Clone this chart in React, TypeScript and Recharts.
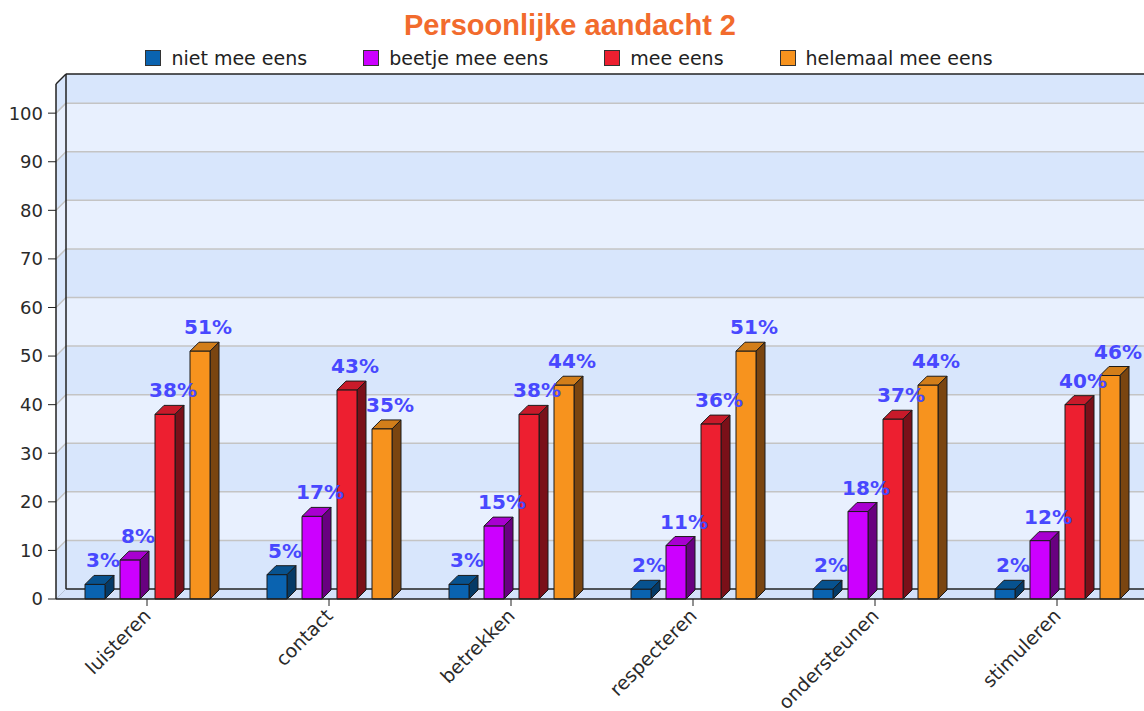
import { BarChart, Bar, XAxis, YAxis, ReferenceArea, LabelList } from "recharts"

const categories = ["luisteren", "contact", "betrekken", "respecteren", "ondersteunen", "stimuleren"]
const nietMeeEens = [3, 5, 3, 2, 2, 2]
const beetjeMeeEens = [8, 17, 15, 11, 18, 12]
const meeEens = [38, 43, 38, 36, 37, 40]
const helemaalMeeEens = [51, 35, 44, 51, 44, 46]
const yTicks = [0, 10, 20, 30, 40, 50, 60, 70, 80, 90, 100]
const yMax = 106

const series = [
  { key: "niet", name: "niet mee eens", values: nietMeeEens, front: "#0a63b0", top: "#07528f", side: "#053a66" },
  { key: "beetje", name: "beetje mee eens", values: beetjeMeeEens, front: "#cc00ff", top: "#a800d0", side: "#680080" },
  { key: "mee", name: "mee eens", values: meeEens, front: "#ed1f30", top: "#c81a2a", side: "#7a1019" },
  { key: "helemaal", name: "helemaal mee eens", values: helemaalMeeEens, front: "#f7931e", top: "#d27e1a", side: "#7a4510" },
]

const data = categories.map((c, i) => {
  const row: Record<string, string | number> = { name: c }
  series.forEach((s) => (row[s.key] = s.values[i]))
  return row
})

const bandEdges = [...yTicks, yMax]
const bands = bandEdges.slice(0, -1).map((lo, i) => ({ lo, hi: bandEdges[i + 1], dark: i % 2 === 0 }))

const WALL = 10
const DEPTH = 9
const font = "'DejaVu Sans', sans-serif"

function bandShape(lo: number, dark: boolean) {
  return (p: any) => {
    const { x, y, width: w, height: h } = p
    const fill = dark ? "#d8e6fc" : "#e8f0fe"
    return (
      <g>
        <rect x={x + WALL} y={y - WALL} width={w} height={h} fill={fill} />
        <polygon
          points={`${x},${y} ${x + WALL},${y - WALL} ${x + WALL},${y + h - WALL} ${x},${y + h}`}
          fill={fill}
        />
        {lo > 0 && (
          <g stroke="#c4c4c4" strokeWidth={1.5}>
            <line x1={x + WALL} y1={y + h - WALL} x2={x + w + WALL} y2={y + h - WALL} />
            <line x1={x} y1={y + h} x2={x + WALL} y2={y + h - WALL} />
          </g>
        )}
      </g>
    )
  }
}

function frameShape(p: any) {
  const { x, y, width: w, height: h } = p
  const b = y + h
  return (
    <g>
      <polygon
        points={`${x},${b} ${x + WALL},${b - WALL} ${x + w + WALL},${b - WALL} ${x + w},${b}`}
        fill="#d4e2fa"
      />
      <line x1={x} y1={b} x2={x + WALL} y2={b - WALL} stroke="#b8c4d8" />
      <g stroke="#222" strokeWidth={1.5} fill="none">
        <line x1={x + WALL} y1={b - WALL} x2={x + w + WALL} y2={b - WALL} />
        <line x1={x + WALL} y1={y - WALL} x2={x + WALL} y2={b - WALL} />
        <line x1={x + WALL} y1={y - WALL} x2={x + w + WALL} y2={y - WALL} />
        <line x1={x} y1={y} x2={x + WALL} y2={y - WALL} />
      </g>
    </g>
  )
}

function bar3D(s: (typeof series)[number]) {
  return (p: any) => {
    const { x, y, width: w, height: h } = p
    if (h == null || w == null) return <g />
    const d = DEPTH
    return (
      <g stroke="#1a1a1a" strokeWidth={1} strokeLinejoin="round">
        <polygon points={`${x},${y} ${x + d},${y - d} ${x + w + d},${y - d} ${x + w},${y}`} fill={s.top} />
        <polygon points={`${x + w},${y} ${x + w + d},${y - d} ${x + w + d},${y + h - d} ${x + w},${y + h}`} fill={s.side} />
        <rect x={x} y={y} width={w} height={h} fill={s.front} />
      </g>
    )
  }
}

function ValueLabel(p: any) {
  const { x, y, width, value } = p
  return (
    <text
      x={x + width / 2 + 8}
      y={y - 17}
      textAnchor="middle"
      fill="#4848ff"
      fontFamily={font}
      fontWeight="bold"
      fontSize={20}
    >
      {`${value}%`}
    </text>
  )
}

function SlantTick(p: any) {
  const { x, y, payload } = p
  const tx = x + 5
  const ty = y + 9
  return (
    <text x={tx} y={ty} transform={`rotate(-45 ${tx} ${ty})`} textAnchor="end" fill="#2a2a2a" fontFamily={font} fontSize={19}>
      {payload.value}
    </text>
  )
}

export default function App() {
  return (
    <div style={{ position: "absolute", left: 0, top: 0, width: 1144, height: 711, overflow: "hidden", background: "#fff" }}>
      <BarChart
        width={1168}
        height={711}
        data={data}
        margin={{ top: 84, right: 20, bottom: 0, left: 0 }}
        barSize={20}
        barGap={15}
      >
        {bands.map((b) => (
          <ReferenceArea key={b.lo} y1={b.lo} y2={b.hi} shape={bandShape(b.lo, b.dark)} />
        ))}
        <ReferenceArea y1={0} y2={yMax} shape={frameShape} />
        <XAxis
          dataKey="name"
          interval={0}
          height={112}
          tickSize={7}
          tick={<SlantTick />}
          axisLine={{ stroke: "#222", strokeWidth: 1.5 }}
          tickLine={{ stroke: "#222" }}
        />
        <YAxis
          domain={[0, yMax]}
          ticks={yTicks}
          width={56}
          tickSize={8}
          tickMargin={5}
          axisLine={{ stroke: "#222", strokeWidth: 1.5 }}
          tickLine={{ stroke: "#222" }}
          tick={{ fill: "#2a2a2a", fontFamily: font, fontSize: 18 }}
        />
        {series.map((s) => (
          <Bar key={s.key} dataKey={s.key} name={s.name} isAnimationActive={false} shape={bar3D(s)}>
            <LabelList dataKey={s.key} content={<ValueLabel />} />
          </Bar>
        ))}
      </BarChart>
      <svg width={1144} height={50} style={{ position: "absolute", left: 0, top: 0 }}>
        <text x={570} y={35} textAnchor="middle" fill="#f26b2d" fontFamily="'Liberation Sans', Arial, sans-serif" fontWeight="bold" fontSize={29}>
          Persoonlijke aandacht 2
        </text>
      </svg>
      <div
        style={{
          position: "absolute",
          left: 0,
          top: 49,
          width: 1138,
          display: "flex",
          justifyContent: "center",
          gap: 56,
          fontFamily: font,
          fontSize: 19,
          color: "#222",
        }}
      >
        {series.map((s) => (
          <div key={s.key} style={{ display: "flex", alignItems: "center", lineHeight: "16px" }}>
            <span
              style={{
                width: 16,
                height: 16,
                boxSizing: "border-box",
                background: s.front,
                border: "1px solid #333",
                marginRight: 10,
              }}
            />
            <span style={{ paddingTop: 1 }}>{s.name}</span>
          </div>
        ))}
      </div>
    </div>
  )
}
